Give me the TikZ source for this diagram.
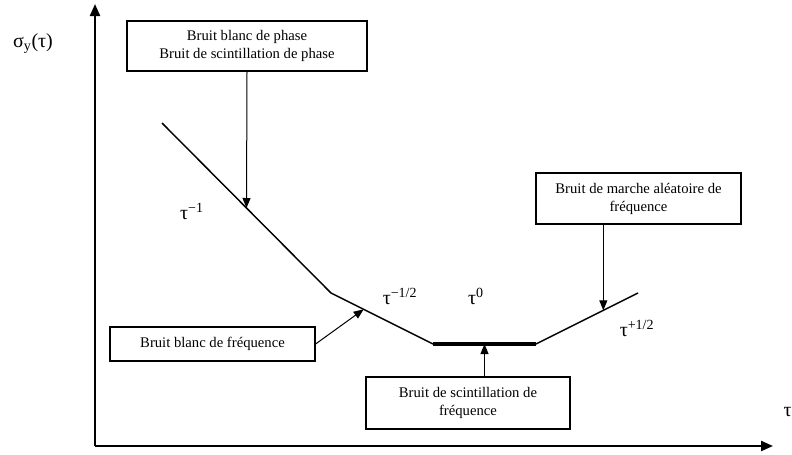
\documentclass[tikz,border=0pt]{standalone}
\usepackage{tkz-euclide}
\usepackage{fontspec}
\setmainfont{Liberation Serif}
\newfontfamily\romain{Liberation Serif}
\usetikzlibrary{arrows.meta}

\tikzset{
  bruit/.style={draw,line width=0.9pt,align=center,inner sep=2pt,
    font=\romain\fontsize{11}{13.5}\selectfont},
  pente/.style={inner sep=0pt,font=\romain\fontsize{15}{18}\selectfont},
  fleche/.style={line width=0.75pt,-{Triangle[width=6pt,length=7.5pt]}},
  axe/.style={line width=1.6pt,-{Triangle[width=7.5pt,length=9pt]}},
}

\begin{document}
\begin{tikzpicture}[x=0.75pt,y=-0.75pt]
                    \useasboundingbox (0,0) rectangle (792,454);
                    \tkzDefPoints{95/446/O,95/4/Y,773/446/X}
                    \tkzDefPoints{162/123/A,331/293/B,433/344/C,536/344/D,638/293/E}
                    \tkzDefPointOnLine[pos=0.5](A,B) \tkzGetPoint{P}
                    \tkzDefPointOnLine[pos=0.32](B,C) \tkzGetPoint{Q}
                    \tkzDefPointOnLine[pos=0.5](C,D) \tkzGetPoint{R}
                    \tkzDefPointOnLine[pos=0.66](D,E) \tkzGetPoint{S}
                    \draw[axe] (O) -- (Y);
                    \draw[axe] (O) -- (X);
                    \draw[line width=1.1pt] (A) -- (B) -- (C) -- (D) -- (E);
                    \draw[line width=2.4pt] (C) -- (D);
                    \node[bruit,minimum width=180pt,minimum height=37.5pt] (phase) at (247,46)
                        {Bruit blanc de phase\\Bruit de scintillation de phase};
                    \node[bruit,minimum width=153.75pt,minimum height=25.5pt] (blanc) at (212.5,344)
                        {Bruit blanc de fréquence};
                    \node[bruit,minimum width=153pt,minimum height=39pt] (scint) at (468,403)
                        {Bruit de scintillation de\\fréquence};
                    \node[bruit,minimum width=153.75pt,minimum height=38.25pt] (marche) at (638.5,198.5)
                        {Bruit de marche aléatoire de\\fréquence};
                    \draw[fleche] (phase.south) -- (P);
                    \draw[fleche] (blanc.east) -- (Q);
                    \draw[fleche] (R |- scint.north) -- (R);
                    \draw[fleche] (S |- marche.south) -- (S);
                    \node[pente] (sigma) at (33,44) {σ\textsubscript{y}(τ)};
                    \node[pente] (tmun) at (192,211) {τ\textsuperscript{−1}};
                    \node[pente] (tmdemi) at (400,296) {τ\textsuperscript{−1/2}};
                    \node[pente] (tzero) at (476,296) {τ\textsuperscript{0}};
                    \node[pente] (tpdemi) at (637,328) {τ\textsuperscript{+1/2}};
                    \node[pente,anchor=east] (tau) at (792,412) {τ};
                \end{tikzpicture}
\end{document}
